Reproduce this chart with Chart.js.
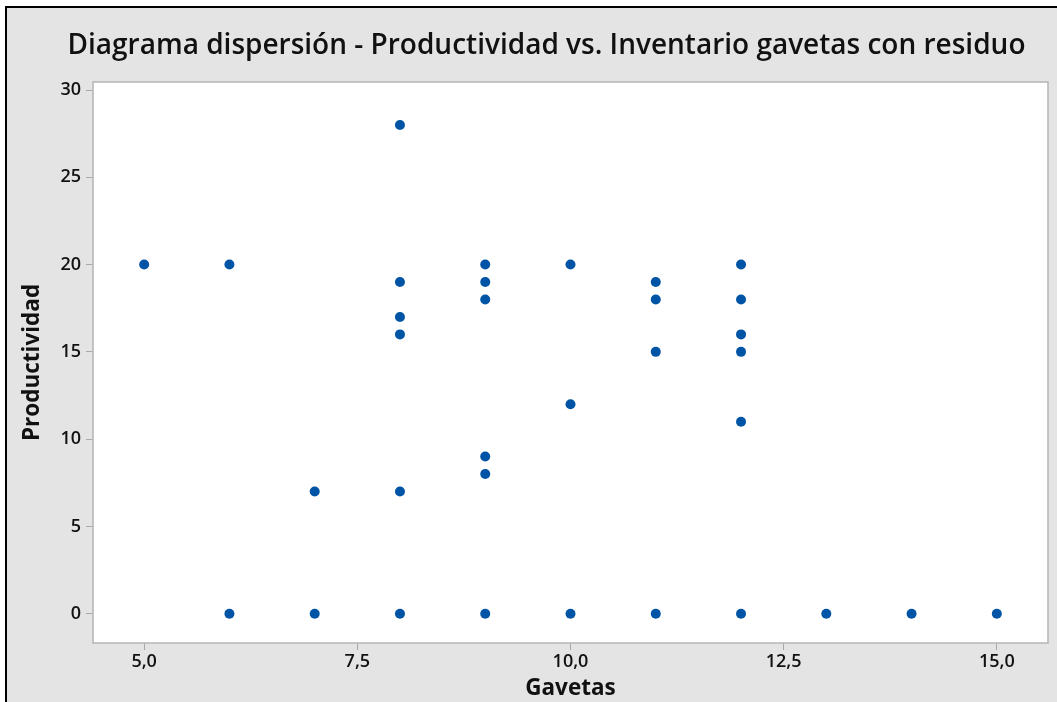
<!DOCTYPE html>
<html>
<head>
<meta charset="utf-8">
<script src="https://cdn.jsdelivr.net/npm/chart.js@4/dist/chart.umd.min.js"></script>
<style>
  html, body { margin: 0; padding: 0; background: #ffffff; }
  #wrap { position: absolute; left: 0; top: 0; width: 1057px; height: 702px; }
</style>
</head>
<body>
<div id="wrap"><canvas id="c" width="1057" height="702"></canvas></div>
<script>
// ---- data ----
const chartTitle = 'Diagrama dispersión - Productividad vs. Inventario gavetas con residuo';
const xAxisTitle = 'Gavetas';
const yAxisTitle = 'Productividad';
const gavetas = [5, 6, 6, 7, 7, 8, 8, 8, 8, 8, 8, 9, 9, 9, 9, 9, 9, 10, 10, 10, 11, 11, 11, 11, 12, 12, 12, 12, 12, 12, 13, 14, 15];
const productividad = [20, 20, 0, 7, 0, 28, 19, 17, 16, 7, 0, 20, 19, 18, 9, 8, 0, 20, 12, 0, 19, 18, 15, 0, 20, 18, 16, 15, 11, 0, 0, 0, 0];
const xTickValues = [5, 7.5, 10, 12.5, 15];
const xTickLabels = ['5,0', '7,5', '10,0', '12,5', '15,0'];
const yTickValues = [0, 5, 10, 15, 20, 25, 30];
const yTickLabels = ['0', '5', '10', '15', '20', '25', '30'];

const points = gavetas.map((g, i) => ({ x: g, y: productividad[i] }));

const FONT = "'Open Sans', 'Noto Sans', 'DejaVu Sans', sans-serif";
const TEXT = '#111111';

const framePlugin = {
  id: 'frame',
  beforeDraw(chart) {
    const ctx = chart.ctx;
    const W = chart.width, H = chart.height;
    ctx.save();
    ctx.fillStyle = '#ffffff';
    ctx.fillRect(0, 0, W, H);
    ctx.fillStyle = '#000000';
    ctx.fillRect(5, 6, W - 5, H - 6);
    ctx.fillStyle = '#e4e4e4';
    ctx.fillRect(7, 8, W - 7, H - 8);
    const a = chart.chartArea;
    ctx.fillStyle = '#ffffff';
    ctx.fillRect(a.left, a.top, a.right - a.left, a.bottom - a.top);
    // title
    ctx.fillStyle = TEXT;
    ctx.font = "600 28px " + FONT;
    ctx.textAlign = 'center';
    ctx.textBaseline = 'alphabetic';
    ctx.fillText(chartTitle, 546.5, 54);
    ctx.restore();
  },
  afterDraw(chart) {
    const ctx = chart.ctx;
    const a = chart.chartArea;
    ctx.save();
    ctx.strokeStyle = '#b4b4b4';
    ctx.lineWidth = 1.5;
    ctx.strokeRect(a.left, a.top, a.right - a.left, a.bottom - a.top);
    ctx.restore();
  }
};

new Chart(document.getElementById('c'), {
  type: 'scatter',
  data: {
    datasets: [{
      data: points,
      backgroundColor: '#0054a6',
      borderColor: '#0054a6',
      pointRadius: 5,
      pointHoverRadius: 5,
      borderWidth: 0
    }]
  },
  options: {
    responsive: false,
    animation: false,
    events: [],
    layout: { padding: { top: 82, right: 9, bottom: 0, left: 0 } },
    plugins: { legend: { display: false }, title: { display: false }, tooltip: { enabled: false } },
    scales: {
      x: {
        type: 'linear',
        min: 4.4,
        max: 15.6,
        afterFit(s) { s.height = 59; },
        afterBuildTicks(s) { s.ticks = xTickValues.map(v => ({ value: v })); },
        ticks: {
          callback: (v) => xTickLabels[xTickValues.indexOf(v)],
          color: TEXT,
          font: { family: FONT, size: 18, weight: 600 },
          padding: 1,
          maxRotation: 0,
          autoSkip: false
        },
        grid: { drawOnChartArea: false, drawTicks: true, tickLength: 7, color: '#a8a8a8', lineWidth: 1 },
        border: { display: false },
        title: {
          display: true, text: xAxisTitle, color: TEXT,
          font: { family: FONT, size: 22.5, weight: 'bold' },
          padding: { top: 0, bottom: 0 }
        }
      },
      y: {
        type: 'linear',
        min: -1.68,
        max: 30.46,
        afterFit(s) { s.width = 93; },
        afterBuildTicks(s) { s.ticks = yTickValues.map(v => ({ value: v })); },
        ticks: {
          callback: (v) => yTickLabels[yTickValues.indexOf(v)],
          color: TEXT,
          font: { family: FONT, size: 18, weight: 600 },
          padding: 5,
          autoSkip: false
        },
        grid: { drawOnChartArea: false, drawTicks: true, tickLength: 7, color: '#a8a8a8', lineWidth: 1 },
        border: { display: false },
        title: {
          display: true, text: yAxisTitle, color: TEXT,
          font: { family: FONT, size: 22.5, weight: 'bold' },
          padding: { top: 19.5, bottom: 0 }
        }
      }
    }
  },
  plugins: [framePlugin]
});
</script>
</body>
</html>
